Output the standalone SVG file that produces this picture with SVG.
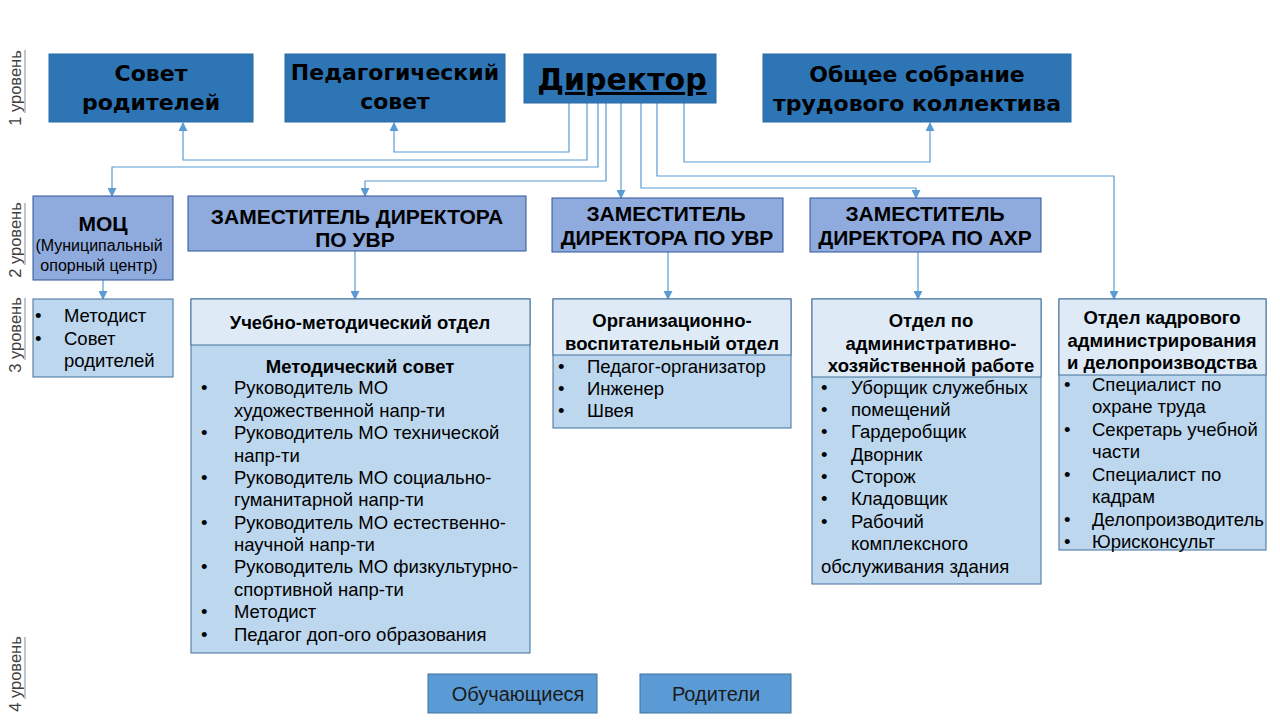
<svg xmlns="http://www.w3.org/2000/svg" width="1280" height="720" viewBox="0 0 1280 720">
<defs>
<marker id="arr" viewBox="0 0 10 10" refX="9" refY="5" markerWidth="9" markerHeight="9" markerUnits="userSpaceOnUse" orient="auto">
<path d="M0,0 L10,5 L0,10 Z" fill="#5B9BD5"/>
</marker>
<style>
.top{fill:#2E75B6;stroke:#2A6AA6;stroke-width:1}
.tt{font-family:"DejaVu Sans",sans-serif;font-weight:bold;font-size:22px;fill:#000;text-anchor:middle}
.l2{fill:#8FAADC;stroke:#2F5597;stroke-width:1}
.l2t{font-family:"Liberation Sans",Arial,sans-serif;font-weight:bold;font-size:21px;fill:#000;text-anchor:middle}
.hd{fill:#DEEBF7;stroke:#41719C;stroke-width:1}
.bd{fill:#BDD7EE;stroke:#41719C;stroke-width:1}
.ht{font-family:"Liberation Sans",Arial,sans-serif;font-weight:bold;font-size:18.5px;fill:#000;text-anchor:middle}
.bt{font-family:"Liberation Sans",Arial,sans-serif;font-size:18.5px;fill:#000}
.l4{fill:#5B9BD5;stroke:#41719C;stroke-width:1}
.l4t{font-family:"Liberation Sans",Arial,sans-serif;font-size:20px;fill:#1a1a1a;text-anchor:middle}
.lv{font-family:"Liberation Sans",Arial,sans-serif;font-size:16.5px;fill:#404040;text-anchor:middle}
.lvl{stroke:#8a8a8a;stroke-width:1}
.cn{fill:none;stroke:#5B9BD5;stroke-width:1.2}
</style>
</defs>
<rect width="1280" height="720" fill="#fff"/>

<g id="levels">
<text class="lv" transform="translate(21,88) rotate(-90)">1 уровень</text>
<line class="lvl" x1="25" y1="50" x2="25" y2="113"/>
<text class="lv" transform="translate(21,240) rotate(-90)">2 уровень</text>
<line class="lvl" x1="25" y1="203" x2="25" y2="265"/>
<text class="lv" transform="translate(21,335) rotate(-90)">3 уровень</text>
<line class="lvl" x1="25" y1="298" x2="25" y2="360"/>
<text class="lv" transform="translate(21,674) rotate(-90)">4 уровень</text>
<line class="lvl" x1="25" y1="637" x2="25" y2="699"/>
</g>

<g id="connectors">
<path class="cn" d="M569,103 V152 H394 V123" marker-end="url(#arr)"/>
<path class="cn" d="M587,103 V160 H183 V123" marker-end="url(#arr)"/>
<path class="cn" d="M598,103 V167 H112 V196" marker-end="url(#arr)"/>
<path class="cn" d="M606,103 V181 H365 V196" marker-end="url(#arr)"/>
<path class="cn" d="M621,103 V198" marker-end="url(#arr)"/>
<path class="cn" d="M641,103 V188 H916 V198" marker-end="url(#arr)"/>
<path class="cn" d="M657,103 V176 H1114 V299" marker-end="url(#arr)"/>
<path class="cn" d="M684,103 V162 H930 V123" marker-end="url(#arr)"/>
<path class="cn" d="M103,280 V299" marker-end="url(#arr)"/>
<path class="cn" d="M355,251 V299" marker-end="url(#arr)"/>
<path class="cn" d="M668,252 V299" marker-end="url(#arr)"/>
<path class="cn" d="M918,252 V299" marker-end="url(#arr)"/>
</g>

<g id="sovet-roditeley">
<rect class="top" x="49" y="54" width="204" height="68"/>
<text class="tt" x="151" y="81">Совет</text>
<text class="tt" x="151" y="110">родителей</text>
</g>
<g id="ped-sovet">
<rect class="top" x="285" y="54" width="220" height="68"/>
<text class="tt" x="395" y="80">Педагогический</text>
<text class="tt" x="395" y="109">совет</text>
</g>
<g id="director">
<rect class="top" x="524" y="54" width="192" height="49"/>
<text class="tt" x="622" y="90" style="font-size:30px;text-decoration:underline">Директор</text>
</g>
<g id="obshchee">
<rect class="top" x="763" y="54" width="308" height="68"/>
<text class="tt" x="917" y="82">Общее собрание</text>
<text class="tt" x="917" y="111">трудового коллектива</text>
</g>

<g id="moc">
<rect class="l2" x="33" y="196" width="140" height="84"/>
<text class="l2t" x="103" y="231">МОЦ</text>
<text class="bt" x="99" y="251" style="font-size:16px;text-anchor:middle">(Муниципальный</text>
<text class="bt" x="99" y="271" style="font-size:16px;text-anchor:middle">опорный центр)</text>
</g>
<g id="zam-uvr-1">
<rect class="l2" x="188" y="196" width="338" height="55"/>
<text class="l2t" x="357" y="224">ЗАМЕСТИТЕЛЬ ДИРЕКТОРА</text>
<text class="l2t" x="355" y="247">ПО УВР</text>
</g>
<g id="zam-uvr-2">
<rect class="l2" x="552" y="198" width="231" height="54"/>
<text class="l2t" x="666" y="221">ЗАМЕСТИТЕЛЬ</text>
<text class="l2t" x="667" y="245">ДИРЕКТОРА ПО УВР</text>
</g>
<g id="zam-ahr">
<rect class="l2" x="810" y="198" width="231" height="54"/>
<text class="l2t" x="925" y="221">ЗАМЕСТИТЕЛЬ</text>
<text class="l2t" x="925" y="245">ДИРЕКТОРА ПО АХР</text>
</g>

<g id="moc-list">
<rect class="bd" x="33" y="299" width="140" height="78"/>
<text class="bt" x="35" y="322">•</text><text class="bt" x="64" y="322">Методист</text>
<text class="bt" x="35" y="345">•</text><text class="bt" x="64" y="345">Совет</text>
<text class="bt" x="64" y="367">родителей</text>
</g>

<g id="umo">
<rect class="bd" x="191" y="299" width="339" height="354"/>
<rect class="hd" x="191" y="299" width="339" height="46"/>
<text class="ht" x="360" y="329">Учебно-методический отдел</text>
<text class="ht" x="360" y="373">Методический совет</text>
<text class="bt" x="201" y="394">•</text><text class="bt" x="234" y="394">Руководитель МО</text>
<text class="bt" x="234" y="417">художественной напр-ти</text>
<text class="bt" x="201" y="439">•</text><text class="bt" x="234" y="439">Руководитель МО технической</text>
<text class="bt" x="234" y="462">напр-ти</text>
<text class="bt" x="201" y="484">•</text><text class="bt" x="234" y="484">Руководитель МО социально-</text>
<text class="bt" x="234" y="506">гуманитарной напр-ти</text>
<text class="bt" x="201" y="529">•</text><text class="bt" x="234" y="529">Руководитель МО естественно-</text>
<text class="bt" x="234" y="551">научной напр-ти</text>
<text class="bt" x="201" y="573">•</text><text class="bt" x="234" y="573">Руководитель МО физкультурно-</text>
<text class="bt" x="234" y="596">спортивной напр-ти</text>
<text class="bt" x="201" y="618">•</text><text class="bt" x="234" y="618">Методист</text>
<text class="bt" x="201" y="641">•</text><text class="bt" x="234" y="641">Педагог доп-ого образования</text>
</g>

<g id="org-vosp">
<rect class="bd" x="553" y="299" width="238" height="129"/>
<rect class="hd" x="553" y="299" width="238" height="56"/>
<text class="ht" x="672" y="327">Организационно-</text>
<text class="ht" x="672" y="350">воспитательный отдел</text>
<text class="bt" x="558" y="373">•</text><text class="bt" x="587" y="373">Педагог-организатор</text>
<text class="bt" x="558" y="395">•</text><text class="bt" x="587" y="395">Инженер</text>
<text class="bt" x="558" y="417">•</text><text class="bt" x="587" y="417">Швея</text>
</g>

<g id="ahr-otdel">
<rect class="bd" x="812" y="299" width="229" height="285"/>
<rect class="hd" x="812" y="299" width="229" height="78"/>
<text class="ht" x="931" y="327">Отдел по</text>
<text class="ht" x="931" y="350">административно-</text>
<text class="ht" x="931" y="372">хозяйственной работе</text>
<text class="bt" x="821" y="394">•</text><text class="bt" x="851" y="394">Уборщик служебных</text>
<text class="bt" x="821" y="416">•</text><text class="bt" x="851" y="416">помещений</text>
<text class="bt" x="821" y="438">•</text><text class="bt" x="851" y="438">Гардеробщик</text>
<text class="bt" x="821" y="461">•</text><text class="bt" x="851" y="461">Дворник</text>
<text class="bt" x="821" y="483">•</text><text class="bt" x="851" y="483">Сторож</text>
<text class="bt" x="821" y="505">•</text><text class="bt" x="851" y="505">Кладовщик</text>
<text class="bt" x="821" y="528">•</text><text class="bt" x="851" y="528">Рабочий</text>
<text class="bt" x="851" y="550">комплексного</text>
<text class="bt" x="821" y="573">обслуживания здания</text>
</g>

<g id="kadry">
<rect class="bd" x="1059" y="299" width="207" height="251"/>
<rect class="hd" x="1059" y="299" width="207" height="76"/>
<text class="ht" x="1162" y="324">Отдел кадрового</text>
<text class="ht" x="1162" y="347">администрирования</text>
<text class="ht" x="1162" y="369">и делопроизводства</text>
<text class="bt" x="1064" y="391">•</text><text class="bt" x="1092" y="391">Специалист по</text>
<text class="bt" x="1092" y="413">охране труда</text>
<text class="bt" x="1064" y="436">•</text><text class="bt" x="1092" y="436">Секретарь учебной</text>
<text class="bt" x="1092" y="458">части</text>
<text class="bt" x="1064" y="481">•</text><text class="bt" x="1092" y="481">Специалист по</text>
<text class="bt" x="1092" y="503">кадрам</text>
<text class="bt" x="1064" y="526">•</text><text class="bt" x="1092" y="526">Делопроизводитель</text>
<text class="bt" x="1064" y="548">•</text><text class="bt" x="1092" y="548">Юрисконсульт</text>
</g>

<g id="obuchayushchiesya">
<rect class="l4" x="428" y="674" width="169" height="39"/>
<text class="l4t" x="518" y="701">Обучающиеся</text>
</g>
<g id="roditeli">
<rect class="l4" x="640" y="674" width="151" height="39"/>
<text class="l4t" x="716" y="701">Родители</text>
</g>
</svg>
